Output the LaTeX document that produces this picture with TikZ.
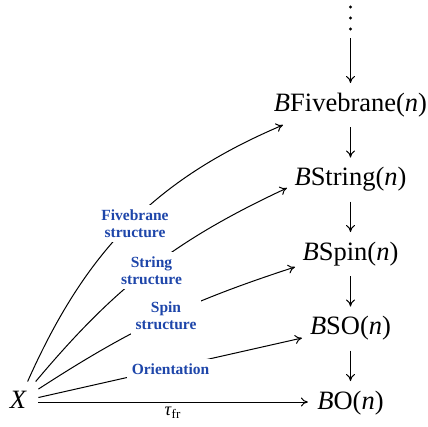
\documentclass[tikz,border=0pt]{standalone}
\usepackage{fontspec}
\setmainfont{Liberation Serif}
\usetikzlibrary{arrows.meta}
\definecolor{lblue}{RGB}{30,70,170}
\begin{document}
\begin{tikzpicture}[x=1pt,y=-1pt,line width=1pt,
  obj/.style={font=\fontsize{26.5}{30}\selectfont,text height=18pt,text depth=6pt,inner xsep=9pt,inner ysep=9.5pt,anchor=base},
  lab/.style={font=\fontsize{15.5}{17}\selectfont\bfseries,text=lblue,fill=white,align=center,inner sep=5pt},
  arr/.style={-{To[length=7pt,width=9pt]}}]
\useasboundingbox (0,0) rectangle (428,426);
% objects
\node[obj,inner xsep=10.9pt,inner ysep=8pt] (x) at (18.5,408) {\textit{X}};
\node[obj] (f)  at (350.5,111)   {\textit{B}Fivebrane(\textit{n})};
\node[obj] (s)  at (350.5,185.5) {\textit{B}String(\textit{n})};
\node[obj] (sp) at (350.5,260)   {\textit{B}Spin(\textit{n})};
\node[obj] (so) at (350.5,334.5) {\textit{B}SO(\textit{n})};
\node[obj] (o)  at (350.5,409)   {\textit{B}O(\textit{n})};
% dots
\fill (350.5,7) circle (1.6);
\fill (350.5,18) circle (1.6);
\fill (350.5,29) circle (1.6);
\coordinate (dtop) at (350.5,38);
% vertical arrows
\draw[arr] (dtop) -- (f.north);
\draw[arr] (f.south) -- (s.north);
\draw[arr] (s.south) -- (sp.north);
\draw[arr] (sp.south) -- (so.north);
\draw[arr] (so.south) -- (o.north);
% arrows from X
\draw[arr] (x) to[out=66,in=203] ([shift={(-67.5,14)}]f.base);
\draw[arr] (x) to[out=50,in=205] ([shift={(-63.5,2.5)}]s.base);
\draw[arr] (x) to[out=33,in=198] ([shift={(-55.5,7)}]sp.base);
\draw[arr] (x) -- ([shift={(-48.5,3.5)}]so.base);
\draw[arr] (x) -- (x -| o.west);
% labels
\node[lab] (l1) at (135,223.5) {Fivebrane\\structure};
\node[lab] (l2) at (151.5,270.5) {String\\structure};
\node[lab] (l3) at (166,316) {Spin\\structure};
\node[lab] (l4) at (170.5,369) {Orientation};
\node[anchor=base west,inner sep=0pt,font=\fontsize{18.5}{20}\selectfont] (t) at (164,415) {\textit{τ}\raisebox{-3pt}{\fontsize{13}{14}\selectfont fr}};
\end{tikzpicture}
\end{document}
